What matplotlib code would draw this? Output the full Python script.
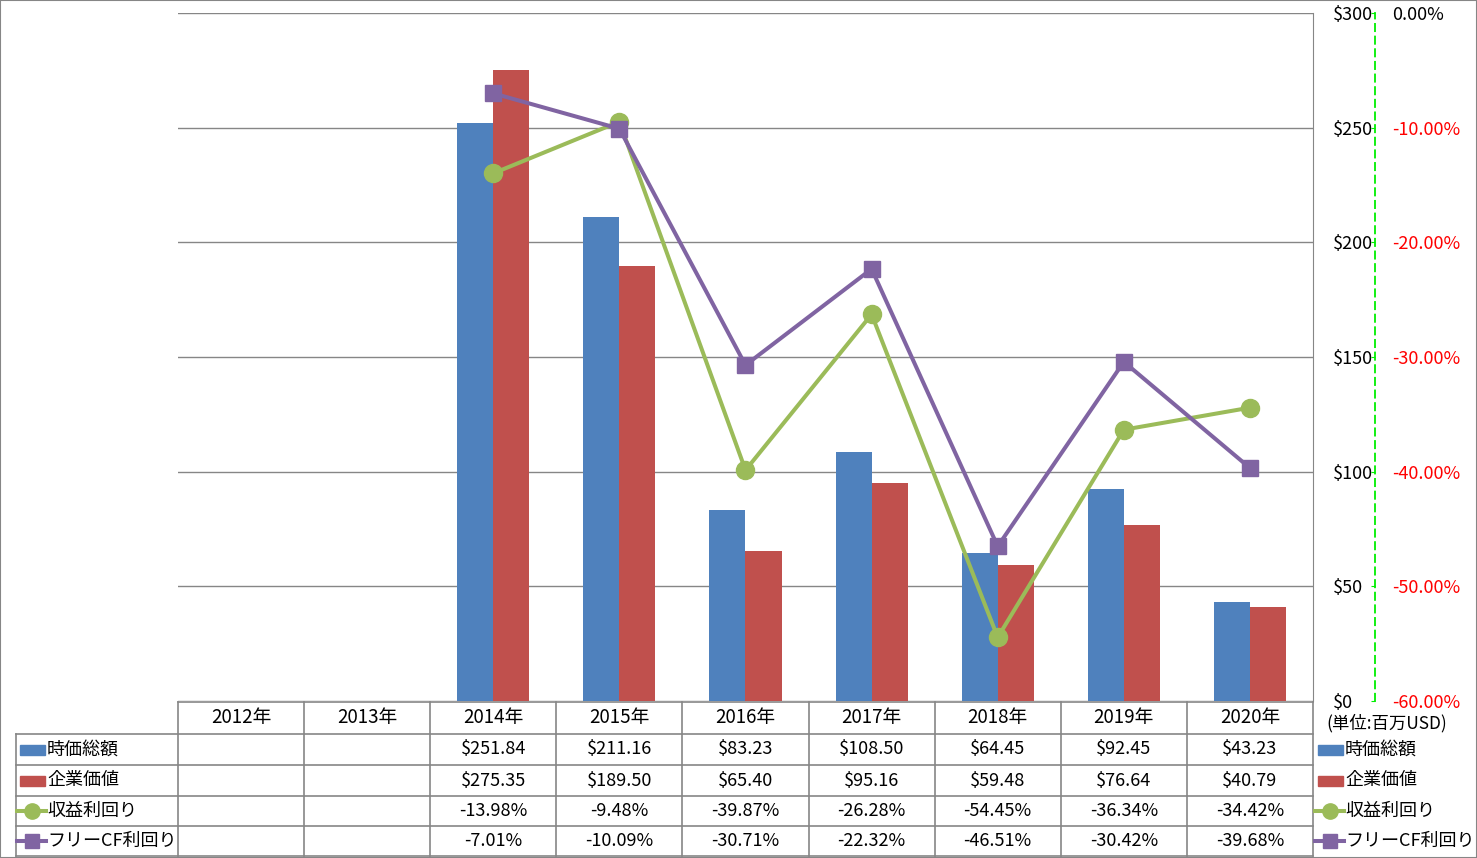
import matplotlib
matplotlib.use("Agg")
import matplotlib.pyplot as plt
import matplotlib.transforms as mtransforms
from matplotlib.lines import Line2D
from matplotlib.patches import Rectangle
import numpy as np

plt.rcParams['font.family'] = ['Noto Sans CJK JP', 'DejaVu Sans']

years = ['2012年', '2013年', '2014年', '2015年', '2016年', '2017年', '2018年', '2019年', '2020年']
market_cap = [None, None, 251.84, 211.16, 83.23, 108.50, 64.45, 92.45, 43.23]
ev = [None, None, 275.35, 189.50, 65.40, 95.16, 59.48, 76.64, 40.79]
earn_yield = [None, None, -13.98, -9.48, -39.87, -26.28, -54.45, -36.34, -34.42]
fcf_yield = [None, None, -7.01, -10.09, -30.71, -22.32, -46.51, -30.42, -39.68]
series_names = ['時価総額', '企業価値', '収益利回り', 'フリーCF利回り']
usd_ticks = [0, 50, 100, 150, 200, 250, 300]
pct_ticks = [-60, -50, -40, -30, -20, -10, 0]

BLUE, RED, GREEN, PURPLE = '#4F81BD', '#C0504D', '#9BBB59', '#8064A2'
GRID = '#868686'

W, H = 1477, 858
fig = plt.figure(figsize=(W / 100, H / 100), dpi=100)

def fx(px):
    return px / W

def fy(py):
    return 1 - py / H

# plot area in pixels
L, R, T, B = 178, 1313, 13, 701
ax = fig.add_axes([fx(L), fy(B), fx(R - L), fy(T) - fy(B)])

x = np.arange(len(years))
bw = 0.286
def vals(a):
    return [np.nan if v is None else v for v in a]

ax.bar(x - bw / 2, vals(market_cap), bw, color=BLUE, zorder=2)
ax.bar(x + bw / 2, vals(ev), bw, color=RED, zorder=2)
ax.set_xlim(-0.5, len(years) - 0.5)
ax.set_ylim(0, 300)
ax.set_xticks([])
ax.grid(axis='y', color=GRID, lw=1, zorder=0)
ax.set_axisbelow(True)

# percent axis
ax2 = ax.twinx()
ax2.set_ylim(-60, 0)
ax2.plot(x, vals(earn_yield), color=GREEN, lw=2.9, marker='o', ms=13, zorder=3)
ax2.plot(x, vals(fcf_yield), color=PURPLE, lw=2.9, marker='s', ms=12, zorder=4)
ax2.set_yticks(pct_ticks)
ax2.set_yticklabels(['%.2f%%' % v for v in pct_ticks])
for s in ['left', 'top', 'bottom']:
    ax2.spines[s].set_visible(False)
ax2.spines['right'].set_position(('axes', (1375 - L) / (R - L)))
ax2.spines['right'].set_color('#00EE00')
ax2.spines['right'].set_linewidth(1.3)
ax2.spines['right'].set_linestyle((0, (4, 3)))
ax2.tick_params(axis='y', direction='in', length=3, color='#00EE00', pad=12, labelsize=13)
for v, lab in zip(pct_ticks, ax2.get_yticklabels()):
    lab.set_color('black' if v == 0 else '#FF0000')

# dollar axis on the right of the plot area
ax.yaxis.tick_right()
ax.set_yticks(usd_ticks)
ax.set_yticklabels(['$%d' % v for v in usd_ticks])
ax.tick_params(axis='y', left=False, labelleft=False, right=False, labelright=True,
               length=0, pad=14, labelsize=13)
for s in ['left', 'top', 'bottom']:
    ax.spines[s].set_visible(False)
ax.spines['right'].set_color(GRID)

# data table
tr = mtransforms.blended_transform_factory(ax.transData, fig.transFigure)
row_lines = [702, 734, 765, 796, 826, 856]
row_mid = [(row_lines[i] + row_lines[i + 1]) / 2 for i in range(5)]

def hline(x0, x1, py, t=fig.transFigure):
    fig.add_artist(Line2D([x0, x1], [fy(py), fy(py)], color=GRID, lw=1.2, transform=t))

hline(fx(L), fx(R), row_lines[0])
for py in row_lines[1:]:
    hline(fx(16), fx(R), py)
for i in range(len(years) + 1):
    xe = i - 0.5
    top = row_lines[0]
    fig.add_artist(Line2D([xe, xe], [fy(top), fy(856)], color=GRID, lw=1.2, transform=tr))
fig.add_artist(Line2D([fx(16), fx(16)], [fy(734), fy(856)], color=GRID, lw=1.2))

for i, yr in enumerate(years):
    fig.text(i, fy(row_mid[0]), yr, transform=tr, ha='center', va='center', fontsize=13.5)

rows = [
    ['' if v is None else '$%.2f' % v for v in market_cap],
    ['' if v is None else '$%.2f' % v for v in ev],
    ['' if v is None else '%.2f%%' % v for v in earn_yield],
    ['' if v is None else '%.2f%%' % v for v in fcf_yield],
]
for r, row in enumerate(rows):
    for i, s in enumerate(row):
        fig.text(i, fy(row_mid[r + 1]), s, transform=tr, ha='center', va='center', fontsize=13)

def legend_key(px, py, kind):
    if kind in (BLUE, RED):
        fig.add_artist(Rectangle((fx(px), fy(py + 5)), fx(25), fy(0) - fy(10), color=kind,
                                 transform=fig.transFigure))
    else:
        marker = 'o' if kind == GREEN else 's'
        ms = 11 if kind == GREEN else 10
        fig.add_artist(Line2D([fx(px - 3), fx(px + 26)], [fy(py), fy(py)], color=kind, lw=2.9,
                              transform=fig.transFigure))
        fig.add_artist(Line2D([fx(px + 11.5)], [fy(py)], color=kind, marker=marker, ms=ms,
                              transform=fig.transFigure))

kinds = [BLUE, RED, GREEN, PURPLE]
for r, (name, kind) in enumerate(zip(series_names, kinds)):
    py = row_mid[r + 1]
    legend_key(20, py, kind)
    fig.text(fx(47), fy(py), name, ha='left', va='center', fontsize=13)
    legend_key(1318, py, kind)
    fig.text(fx(1345), fy(py), name, ha='left', va='center', fontsize=13)

fig.text(fx(1326), fy(723), '(単位:百万USD)', ha='left', va='center', fontsize=12.5)

fig.add_artist(Rectangle((0, 0), 1, 1, fill=False, edgecolor=GRID, lw=1.5,
                         transform=fig.transFigure))

fig.savefig('out.png', dpi=100)
